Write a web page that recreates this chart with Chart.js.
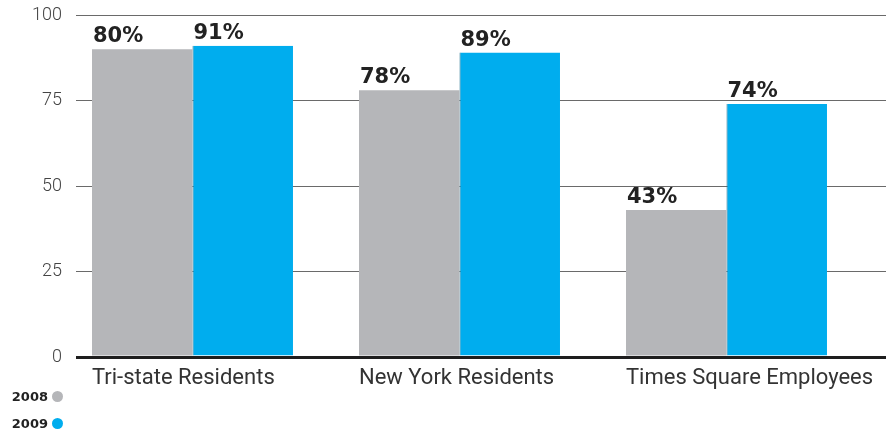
<!DOCTYPE html>
<html lang="en">
<head>
<meta charset="UTF-8">
<title>Times Square survey</title>
<script src="https://cdn.jsdelivr.net/npm/chart.js"></script>
<style>
  html, body { margin: 0; padding: 0; background: #fff; }
  #wrap { position: relative; width: 886px; height: 434px; }
  #legend { position: absolute; left: 0; top: 388px; width: 63px; font: bold 13px "DejaVu Sans", sans-serif; color: #222; }
  #legend div { height: 27px; line-height: 18px; text-align: right; }
  #legend span.dot { display: inline-block; width: 11px; height: 11px; border-radius: 50%; margin-left: 4px; vertical-align: -1px; }
</style>
</head>
<body>
<div id="wrap">
  <canvas id="chart" width="886" height="434"></canvas>
  <div id="legend"></div>
</div>
<script>
// categories and values
const categories = ['Tri-state Residents', 'New York Residents', 'Times Square Employees'];
const seriesNames = ['2008', '2009'];
const values2008 = [90, 78, 43];
const values2009 = [91, 89, 74];
// the printed labels (they don't all match the bar heights in the original)
const labels2008 = ['80%', '78%', '43%'];
const labels2009 = ['91%', '89%', '74%'];
const yTicks = [0, 25, 50, 75, 100];

const grey = '#b5b6b9';
const blue = '#00adee';

// html legend, text then dot
const legend = document.getElementById('legend');
[[seriesNames[0], grey], [seriesNames[1], blue]].forEach(([name, col]) => {
    const row = document.createElement('div');
    row.innerHTML = name + '<span class="dot" style="background:' + col + '"></span>';
    legend.appendChild(row);
});

// percentage text above each bar, left aligned with the bar
const barLabels = {
    id: 'barLabels',
    afterDraw(chart) {
        const ctx = chart.ctx;
        const texts = [labels2008, labels2009];
        ctx.save();
        ctx.font = 'bold 21px "DejaVu Sans", sans-serif';
        ctx.fillStyle = '#222';
        ctx.textAlign = 'left';
        ctx.textBaseline = 'alphabetic';
        chart.data.datasets.forEach((ds, di) => {
            chart.getDatasetMeta(di).data.forEach((bar, i) => {
                ctx.fillText(texts[di][i], bar.x - bar.width / 2 + 1, bar.y - 7);
            });
        });
        ctx.restore();
    }
};

new Chart(document.getElementById('chart'), {
    type: 'bar',
    data: {
        datasets: [{
            label: seriesNames[0],
            data: values2008.map((v, i) => ({ x: i, y: v })),
            backgroundColor: grey,
            borderWidth: 0
        }, {
            label: seriesNames[1],
            data: values2009.map((v, i) => ({ x: i, y: v })),
            backgroundColor: blue,
            borderColor: '#1d6d8f',
            borderWidth: { left: 1, top: 0, right: 0, bottom: 0 },
            borderSkipped: false
        }]
    },
    options: {
        responsive: false,
        animation: false,
        categoryPercentage: 0.7528,
        barPercentage: 1,
        layout: { padding: { top: 15, right: 0, bottom: 41, left: 0 } },
        plugins: {
            legend: { display: false },
            tooltip: { enabled: false }
        },
        scales: {
            x: {
                type: 'linear',
                offset: false,
                min: -0.4363,
                max: 2.5974,
                grid: { display: false },
                border: { display: false },
                afterBuildTicks: (scale) => { scale.ticks = categories.map((c, i) => ({ value: i })); },
                afterFit: (scale) => { scale.paddingLeft = 0; scale.paddingRight = 0; scale.height = 36; },
                ticks: {
                    autoSkip: false,
                    maxRotation: 0,
                    align: 'start',
                    labelOffset: -100.5,
                    padding: 0,
                    color: '#333',
                    font: { family: 'Roboto', weight: '400', size: 22 },
                    callback: (v) => categories[v]
                }
            },
            y: {
                min: 0,
                max: 100,
                z: 1,
                afterBuildTicks: (scale) => { scale.ticks = yTicks.map(v => ({ value: v })); },
                afterFit: (scale) => { scale.width = 76; scale.paddingTop = 0; scale.paddingBottom = 0; },
                border: { display: false },
                grid: {
                    drawTicks: false,
                    color: (c) => c.tick && c.tick.value === 0 ? '#1e1e1e' : '#6a6a6a',
                    lineWidth: (c) => c.tick && c.tick.value === 0 ? 3 : 1
                },
                ticks: {
                    padding: 14,
                    color: '#444',
                    font: { family: 'Roboto', weight: '300', size: 18 }
                }
            }
        }
    },
    plugins: [barLabels]
});
</script>
</body>
</html>
